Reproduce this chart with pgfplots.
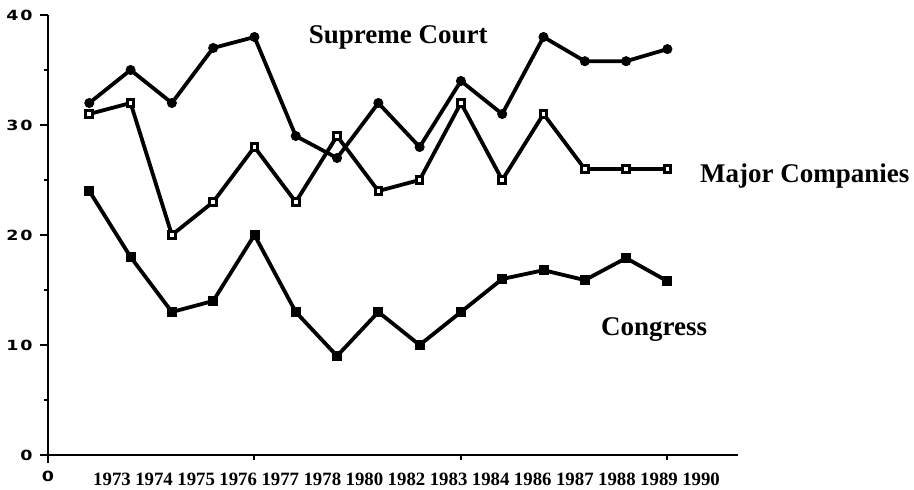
\documentclass[border=0pt]{standalone}
\usepackage{fontspec}
\usepackage{pgfplots}
\pgfplotsset{compat=1.18}
\setmainfont{Liberation Serif}
\newfontfamily\tickfont[LetterSpace=12, FakeStretch=1.25]{DejaVu Sans}
\newfontfamily\yearfont{Liberation Serif}
\tikzset{yearlabel/.style={anchor=base, font=\yearfont\bfseries\fontsize{18.8}{20}\selectfont, inner sep=0pt}}
\newcommand\tf{\tickfont\bfseries\fontsize{14}{15}\selectfont}
\begin{document}
\begin{tikzpicture}
\useasboundingbox (0,0) rectangle (914pt,490pt);
\begin{axis}[
  at={(48pt,35pt)}, anchor=south west,
  scale only axis, width=690pt, height=440pt,
  xmin=0, xmax=16.71, ymin=0, ymax=40,
  axis x line=bottom, axis y line=left,
  axis line style={-, line width=2.8pt},
  clip=false,
  tick align=outside,
  major tick length=8pt, minor tick length=4pt,
  xtick={0},
  ytick={0,10,20,30,40},
  minor ytick={5,15,25,35},
  tick style={line width=2pt, black},
  yticklabel={\tf\pgfmathprintnumber[assume math mode=true]{\tick}},
  xticklabel={\tf\pgfmathprintnumber[assume math mode=true]{\tick}},
  yticklabel style={xshift=-4pt},
  xticklabel style={yshift=-5pt},
  extra x ticks={5,10,15},
  extra x tick labels={},
  extra x tick style={major tick length=5pt},
]
\addplot[black, line width=3.8pt, mark=*, mark size=4.6pt, mark options={line width=0.8pt}] coordinates {
(1,32) (2,35) (3,32) (4,37) (5,38) (6,29) (7,27) (8,32) (9,28) (10,34) (11,31) (12,38) (13,35.8) (14,35.8) (15,36.9)};
\addplot[black, line width=3.8pt, mark=square*, mark size=3.3pt, mark options={fill=white, line width=3pt}] coordinates {
(1,31) (2,32) (3,20) (4,23) (5,28) (6,23) (7,29) (8,24) (9,25) (10,32) (11,25) (12,31) (13,26) (14,26) (15,26)};
\addplot[black, line width=3.8pt, mark=square*, mark size=4.5pt, mark options={line width=0.8pt}] coordinates {
(1,24) (2,18) (3,13) (4,14) (5,20) (6,13) (7,9) (8,13) (9,10) (10,13) (11,16) (12,16.8) (13,15.9) (14,17.9) (15,15.8)};
\node[anchor=base, font=\bfseries\fontsize{27}{30}\selectfont, inner sep=0pt] at (axis cs:8.48,37.45) {Supreme Court};
\node[anchor=base west, font=\bfseries\fontsize{27}{30}\selectfont, inner sep=0pt] at (axis cs:15.79,24.73) {Major Companies};
\node[anchor=base, font=\bfseries\fontsize{27}{30}\selectfont, inner sep=0pt] at (axis cs:14.68,10.9) {Congress};
\node[yearlabel] at (axis cs:1.55,-2.73) {1973};
\node[yearlabel] at (axis cs:2.569,-2.73) {1974};
\node[yearlabel] at (axis cs:3.588,-2.73) {1975};
\node[yearlabel] at (axis cs:4.607,-2.73) {1976};
\node[yearlabel] at (axis cs:5.626,-2.73) {1977};
\node[yearlabel] at (axis cs:6.645,-2.73) {1978};
\node[yearlabel] at (axis cs:7.664,-2.73) {1980};
\node[yearlabel] at (axis cs:8.683,-2.73) {1982};
\node[yearlabel] at (axis cs:9.702,-2.73) {1983};
\node[yearlabel] at (axis cs:10.721,-2.73) {1984};
\node[yearlabel] at (axis cs:11.74,-2.73) {1986};
\node[yearlabel] at (axis cs:12.759,-2.73) {1987};
\node[yearlabel] at (axis cs:13.778,-2.73) {1988};
\node[yearlabel] at (axis cs:14.797,-2.73) {1989};
\node[yearlabel] at (axis cs:15.816,-2.73) {1990};
\end{axis}
\end{tikzpicture}
\end{document}
